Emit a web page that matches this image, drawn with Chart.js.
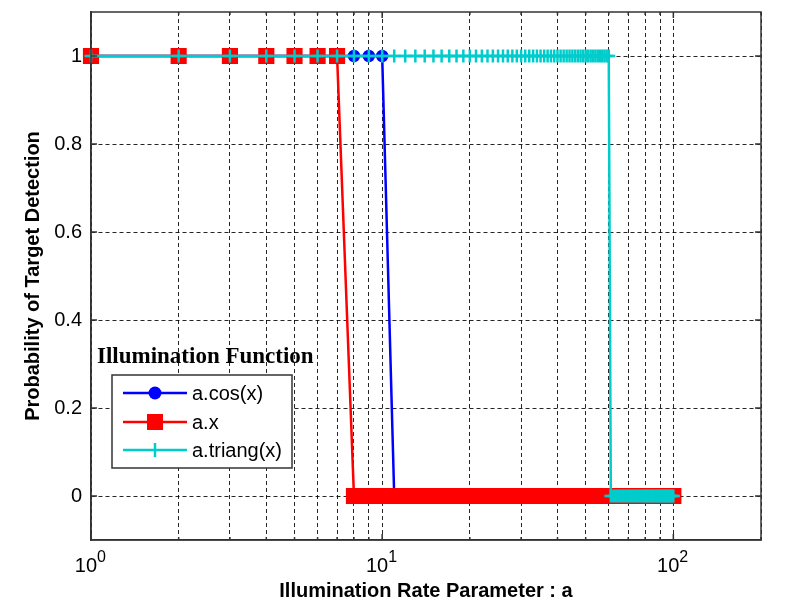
<!DOCTYPE html>
<html>
<head>
<meta charset="utf-8">
<script src="https://cdn.jsdelivr.net/npm/chart.js@4"></script>
<style>
  body { margin: 0; background: #fff; }
  canvas { display: block; }
</style>
</head>
<body>
<canvas id="detChart" width="810" height="612"></canvas>
<script>
// illumination rate parameter a (same grid for all three functions)
const rateValues = [
  1, 2, 3, 4, 5, 6, 7, 8, 9, 10,
  11, 12, 13, 14, 15, 16, 17, 18, 19, 20,
  21, 22, 23, 24, 25, 26, 27, 28, 29, 30,
  31, 32, 33, 34, 35, 36, 37, 38, 39, 40,
  41, 42, 43, 44, 45, 46, 47, 48, 49, 50,
  51, 52, 53, 54, 55, 56, 57, 58, 59, 60,
  61, 62, 63, 64, 65, 66, 67, 68, 69, 70,
  71, 72, 73, 74, 75, 76, 77, 78, 79, 80,
  81, 82, 83, 84, 85, 86, 87, 88, 89, 90,
  91, 92, 93, 94, 95, 96, 97, 98, 99, 100
];

const cosProb = [
  1, 1, 1, 1, 1, 1, 1, 1, 1, 1,
  0, 0, 0, 0, 0, 0, 0, 0, 0, 0,
  0, 0, 0, 0, 0, 0, 0, 0, 0, 0,
  0, 0, 0, 0, 0, 0, 0, 0, 0, 0,
  0, 0, 0, 0, 0, 0, 0, 0, 0, 0,
  0, 0, 0, 0, 0, 0, 0, 0, 0, 0,
  0, 0, 0, 0, 0, 0, 0, 0, 0, 0,
  0, 0, 0, 0, 0, 0, 0, 0, 0, 0,
  0, 0, 0, 0, 0, 0, 0, 0, 0, 0,
  0, 0, 0, 0, 0, 0, 0, 0, 0, 0
];

const linProb = [
  1, 1, 1, 1, 1, 1, 1, 0, 0, 0,
  0, 0, 0, 0, 0, 0, 0, 0, 0, 0,
  0, 0, 0, 0, 0, 0, 0, 0, 0, 0,
  0, 0, 0, 0, 0, 0, 0, 0, 0, 0,
  0, 0, 0, 0, 0, 0, 0, 0, 0, 0,
  0, 0, 0, 0, 0, 0, 0, 0, 0, 0,
  0, 0, 0, 0, 0, 0, 0, 0, 0, 0,
  0, 0, 0, 0, 0, 0, 0, 0, 0, 0,
  0, 0, 0, 0, 0, 0, 0, 0, 0, 0,
  0, 0, 0, 0, 0, 0, 0, 0, 0, 0
];

const triangProb = [
  1, 1, 1, 1, 1, 1, 1, 1, 1, 1,
  1, 1, 1, 1, 1, 1, 1, 1, 1, 1,
  1, 1, 1, 1, 1, 1, 1, 1, 1, 1,
  1, 1, 1, 1, 1, 1, 1, 1, 1, 1,
  1, 1, 1, 1, 1, 1, 1, 1, 1, 1,
  1, 1, 1, 1, 1, 1, 1, 1, 1, 1,
  0, 0, 0, 0, 0, 0, 0, 0, 0, 0,
  0, 0, 0, 0, 0, 0, 0, 0, 0, 0,
  0, 0, 0, 0, 0, 0, 0, 0, 0, 0,
  0, 0, 0, 0, 0, 0, 0, 0, 0, 0
];

const seriesLabels = ['a.cos(x)', 'a.x', 'a.triang(x)'];
const xMajorTicks = [1, 10, 100];
const xMajorExp = ['0', '1', '2'];
const yTickValues = [0, 0.2, 0.4, 0.6, 0.8, 1];

const BLUE = '#0000ff', RED = '#ff0000', CYAN = '#00cccc';
const SANS = '"Liberation Sans", Arial, sans-serif';

function toPoints(ys) {
    return rateValues.map((a, i) => ({ x: a, y: ys[i] }));
}

// axes box, inward ticks, 10^n labels and the legend
const matlabDecor = {
    id: 'matlabDecor',
    afterDraw(chart) {
        const ctx = chart.ctx;
        const area = chart.chartArea;
        const xs = chart.scales.x;
        const ys = chart.scales.y;

        ctx.save();
        ctx.strokeStyle = '#333';
        ctx.lineWidth = 1.5;
        ctx.strokeRect(area.left, area.top, area.right - area.left, area.bottom - area.top);

        // tick marks pointing inward
        ctx.beginPath();
        xs.ticks.forEach(t => {
            const px = xs.getPixelForValue(t.value);
            const len = xMajorTicks.includes(t.value) ? 6 : 3;
            ctx.moveTo(px, area.bottom); ctx.lineTo(px, area.bottom - len);
            ctx.moveTo(px, area.top); ctx.lineTo(px, area.top + len);
        });
        yTickValues.forEach(v => {
            const py = ys.getPixelForValue(v);
            ctx.moveTo(area.left, py); ctx.lineTo(area.left + 6, py);
            ctx.moveTo(area.right, py); ctx.lineTo(area.right - 6, py);
        });
        ctx.stroke();

        // x tick labels as 10^n
        ctx.fillStyle = '#000';
        ctx.textBaseline = 'alphabetic';
        xMajorTicks.forEach((v, i) => {
            const px = xs.getPixelForValue(v);
            ctx.font = '20px ' + SANS;
            ctx.textAlign = 'right';
            ctx.fillText('10', px + 6, 572);
            ctx.font = '16px ' + SANS;
            ctx.textAlign = 'left';
            ctx.fillText(xMajorExp[i], px + 6, 562);
        });

        // legend
        ctx.font = 'bold 23px "Liberation Serif", "Times New Roman", serif';
        ctx.textAlign = 'left';
        ctx.textBaseline = 'middle';
        ctx.fillText('Illumination Function', 97, 357);

        const bx = 112, by = 375, bw = 180, bh = 93;
        ctx.fillStyle = '#fff';
        ctx.fillRect(bx, by, bw, bh);
        ctx.strokeStyle = '#333';
        ctx.lineWidth = 1.5;
        ctx.strokeRect(bx, by, bw, bh);

        const rowY = [393, 422, 450];
        const colors = [BLUE, RED, CYAN];
        rowY.forEach((y, i) => {
            const c = colors[i];
            ctx.strokeStyle = c;
            ctx.fillStyle = c;
            ctx.lineWidth = 2.5;
            ctx.beginPath();
            ctx.moveTo(123, y); ctx.lineTo(187, y);
            ctx.stroke();
            const mx = 155;
            if (i === 0) {
                ctx.beginPath();
                ctx.arc(mx, y, 6.5, 0, Math.PI * 2);
                ctx.fill();
            } else if (i === 1) {
                ctx.fillRect(mx - 8, y - 8, 16, 16);
            } else {
                ctx.beginPath();
                ctx.moveTo(mx, y - 7); ctx.lineTo(mx, y + 7);
                ctx.stroke();
            }
            ctx.fillStyle = '#000';
            ctx.font = '20px ' + SANS;
            ctx.fillText(seriesLabels[i], 192, y + 1);
        });
        ctx.restore();
    }
};

new Chart(document.getElementById('detChart'), {
    type: 'scatter',
    data: {
        datasets: [{
            label: seriesLabels[0],
            data: toPoints(cosProb),
            showLine: true,
            borderColor: BLUE,
            backgroundColor: BLUE,
            borderWidth: 2.5,
            pointStyle: 'circle',
            pointRadius: 5.5,
            pointBorderWidth: 1.5,
            clip: false,
            order: 3
        }, {
            label: seriesLabels[1],
            data: toPoints(linProb),
            showLine: true,
            borderColor: RED,
            backgroundColor: RED,
            borderWidth: 2.5,
            pointStyle: 'rect',
            pointRadius: 10,
            pointBorderWidth: 2,
            clip: false,
            order: 2
        }, {
            label: seriesLabels[2],
            data: toPoints(triangProb),
            showLine: true,
            borderColor: CYAN,
            backgroundColor: CYAN,
            borderWidth: 2.5,
            pointStyle: 'cross',
            pointRadius: 6.5,
            pointBorderWidth: 2.5,
            clip: false,
            order: 1
        }]
    },
    options: {
        responsive: false,
        animation: false,
        layout: { padding: { top: 9, right: 49, left: 0, bottom: 0 } },
        plugins: {
            legend: { display: false },
            tooltip: { enabled: false }
        },
        scales: {
            x: {
                type: 'logarithmic',
                min: 1,
                max: 200,
                afterFit: s => {
                    s.height = 72;
                    s.paddingLeft = 0;
                    s.paddingRight = 0;
                },
                afterBuildTicks: s => {
                    s.ticks = s.ticks.filter(t => {
                        const m = t.value / Math.pow(10, Math.floor(Math.log10(t.value) + 1e-9));
                        return Math.abs(m - Math.round(m)) < 1e-6;
                    });
                },
                ticks: { display: false, autoSkip: false },
                grid: { color: 'rgba(0,0,0,0.85)', lineWidth: 1, drawTicks: false },
                border: { display: true, color: '#333', width: 1.5, dash: [4, 3] },
                title: {
                    display: true,
                    text: 'Illumination Rate Parameter : a',
                    font: { family: SANS, size: 20, weight: 'bold' },
                    color: '#000',
                    padding: { top: 0, bottom: 9 }
                }
            },
            y: {
                min: -0.1,
                max: 1.1,
                afterFit: s => {
                    s.width = 91;
                    s.paddingTop = 0;
                    s.paddingBottom = 0;
                },
                afterBuildTicks: s => {
                    s.ticks = yTickValues.map(v => ({ value: v }));
                },
                ticks: {
                    padding: 9,
                    color: '#000',
                    font: { family: SANS, size: 20 },
                    callback: v => String(Math.round(v * 10) / 10)
                },
                grid: { color: 'rgba(0,0,0,0.85)', lineWidth: 1, drawTicks: false },
                border: { display: true, color: '#333', width: 1.5, dash: [4, 3] },
                title: {
                    display: true,
                    text: 'Probability of Target Detection',
                    font: { family: SANS, size: 20, weight: 'bold' },
                    color: '#000',
                    padding: { top: 21, bottom: 0 }
                }
            }
        }
    },
    plugins: [matlabDecor]
});
</script>
</body>
</html>
